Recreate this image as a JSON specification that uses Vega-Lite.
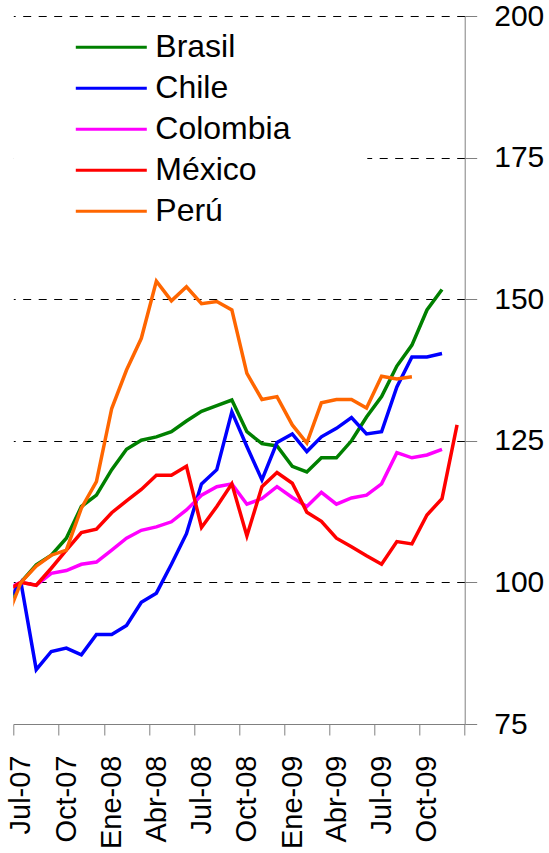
{
  "$schema": "https://vega.github.io/schema/vega-lite/v6.json",
  "width": 451.4,
  "height": 708,
  "autosize": {"type": "none"},
  "padding": {"left": 13.3, "top": 16, "right": 84.3, "bottom": 129},
  "background": "white",
  "config": {
    "view": {"stroke": null},
    "font": "Liberation Sans"
  },
  "datasets": {
    "series": [
      {"pais": "Brasil", "mes": "2007-06", "valor": 95.6},
      {"pais": "Brasil", "mes": "2007-07", "valor": 100},
      {"pais": "Brasil", "mes": "2007-08", "valor": 103.1},
      {"pais": "Brasil", "mes": "2007-09", "valor": 104.8},
      {"pais": "Brasil", "mes": "2007-10", "valor": 107.8},
      {"pais": "Brasil", "mes": "2007-11", "valor": 113.4},
      {"pais": "Brasil", "mes": "2007-12", "valor": 115.4},
      {"pais": "Brasil", "mes": "2008-01", "valor": 119.9},
      {"pais": "Brasil", "mes": "2008-02", "valor": 123.5},
      {"pais": "Brasil", "mes": "2008-03", "valor": 125.1},
      {"pais": "Brasil", "mes": "2008-04", "valor": 125.7},
      {"pais": "Brasil", "mes": "2008-05", "valor": 126.6},
      {"pais": "Brasil", "mes": "2008-06", "valor": 128.5},
      {"pais": "Brasil", "mes": "2008-07", "valor": 130.2},
      {"pais": "Brasil", "mes": "2008-08", "valor": 131.2},
      {"pais": "Brasil", "mes": "2008-09", "valor": 132.2},
      {"pais": "Brasil", "mes": "2008-10", "valor": 126.6},
      {"pais": "Brasil", "mes": "2008-11", "valor": 124.5},
      {"pais": "Brasil", "mes": "2008-12", "valor": 124.1},
      {"pais": "Brasil", "mes": "2009-01", "valor": 120.5},
      {"pais": "Brasil", "mes": "2009-02", "valor": 119.5},
      {"pais": "Brasil", "mes": "2009-03", "valor": 122.0},
      {"pais": "Brasil", "mes": "2009-04", "valor": 122.0},
      {"pais": "Brasil", "mes": "2009-05", "valor": 125.0},
      {"pais": "Brasil", "mes": "2009-06", "valor": 129.2},
      {"pais": "Brasil", "mes": "2009-07", "valor": 132.8},
      {"pais": "Brasil", "mes": "2009-08", "valor": 138.2},
      {"pais": "Brasil", "mes": "2009-09", "valor": 141.9},
      {"pais": "Brasil", "mes": "2009-10", "valor": 148.1},
      {"pais": "Brasil", "mes": "2009-11", "valor": 151.7},
      {"pais": "Chile", "mes": "2007-06", "valor": 96.5},
      {"pais": "Chile", "mes": "2007-07", "valor": 100},
      {"pais": "Chile", "mes": "2007-08", "valor": 84.6},
      {"pais": "Chile", "mes": "2007-09", "valor": 87.8},
      {"pais": "Chile", "mes": "2007-10", "valor": 88.4},
      {"pais": "Chile", "mes": "2007-11", "valor": 87.2},
      {"pais": "Chile", "mes": "2007-12", "valor": 90.8},
      {"pais": "Chile", "mes": "2008-01", "valor": 90.8},
      {"pais": "Chile", "mes": "2008-02", "valor": 92.4},
      {"pais": "Chile", "mes": "2008-03", "valor": 96.5},
      {"pais": "Chile", "mes": "2008-04", "valor": 98.1},
      {"pais": "Chile", "mes": "2008-05", "valor": 103.2},
      {"pais": "Chile", "mes": "2008-06", "valor": 108.6},
      {"pais": "Chile", "mes": "2008-07", "valor": 117.4},
      {"pais": "Chile", "mes": "2008-08", "valor": 119.9},
      {"pais": "Chile", "mes": "2008-09", "valor": 130.1},
      {"pais": "Chile", "mes": "2008-10", "valor": 124.0},
      {"pais": "Chile", "mes": "2008-11", "valor": 118.1},
      {"pais": "Chile", "mes": "2008-12", "valor": 124.7},
      {"pais": "Chile", "mes": "2009-01", "valor": 126.2},
      {"pais": "Chile", "mes": "2009-02", "valor": 123.1},
      {"pais": "Chile", "mes": "2009-03", "valor": 125.7},
      {"pais": "Chile", "mes": "2009-04", "valor": 127.2},
      {"pais": "Chile", "mes": "2009-05", "valor": 129.1},
      {"pais": "Chile", "mes": "2009-06", "valor": 126.2},
      {"pais": "Chile", "mes": "2009-07", "valor": 126.6},
      {"pais": "Chile", "mes": "2009-08", "valor": 134.5},
      {"pais": "Chile", "mes": "2009-09", "valor": 139.8},
      {"pais": "Chile", "mes": "2009-10", "valor": 139.8},
      {"pais": "Chile", "mes": "2009-11", "valor": 140.4},
      {"pais": "Colombia", "mes": "2007-06", "valor": 98.8},
      {"pais": "Colombia", "mes": "2007-07", "valor": 100},
      {"pais": "Colombia", "mes": "2007-08", "valor": 99.5},
      {"pais": "Colombia", "mes": "2007-09", "valor": 101.6},
      {"pais": "Colombia", "mes": "2007-10", "valor": 102.1},
      {"pais": "Colombia", "mes": "2007-11", "valor": 103.2},
      {"pais": "Colombia", "mes": "2007-12", "valor": 103.6},
      {"pais": "Colombia", "mes": "2008-01", "valor": 105.7},
      {"pais": "Colombia", "mes": "2008-02", "valor": 107.8},
      {"pais": "Colombia", "mes": "2008-03", "valor": 109.2},
      {"pais": "Colombia", "mes": "2008-04", "valor": 109.8},
      {"pais": "Colombia", "mes": "2008-05", "valor": 110.7},
      {"pais": "Colombia", "mes": "2008-06", "valor": 112.8},
      {"pais": "Colombia", "mes": "2008-07", "valor": 115.4},
      {"pais": "Colombia", "mes": "2008-08", "valor": 116.9},
      {"pais": "Colombia", "mes": "2008-09", "valor": 117.4},
      {"pais": "Colombia", "mes": "2008-10", "valor": 113.8},
      {"pais": "Colombia", "mes": "2008-11", "valor": 114.8},
      {"pais": "Colombia", "mes": "2008-12", "valor": 116.9},
      {"pais": "Colombia", "mes": "2009-01", "valor": 115.0},
      {"pais": "Colombia", "mes": "2009-02", "valor": 113.4},
      {"pais": "Colombia", "mes": "2009-03", "valor": 115.9},
      {"pais": "Colombia", "mes": "2009-04", "valor": 113.8},
      {"pais": "Colombia", "mes": "2009-05", "valor": 114.9},
      {"pais": "Colombia", "mes": "2009-06", "valor": 115.4},
      {"pais": "Colombia", "mes": "2009-07", "valor": 117.4},
      {"pais": "Colombia", "mes": "2009-08", "valor": 122.9},
      {"pais": "Colombia", "mes": "2009-09", "valor": 122.0},
      {"pais": "Colombia", "mes": "2009-10", "valor": 122.5},
      {"pais": "Colombia", "mes": "2009-11", "valor": 123.5},
      {"pais": "México", "mes": "2007-06", "valor": 98.5},
      {"pais": "México", "mes": "2007-07", "valor": 100},
      {"pais": "México", "mes": "2007-08", "valor": 99.5},
      {"pais": "México", "mes": "2007-09", "valor": 102.5},
      {"pais": "México", "mes": "2007-10", "valor": 105.7},
      {"pais": "México", "mes": "2007-11", "valor": 108.8},
      {"pais": "México", "mes": "2007-12", "valor": 109.4},
      {"pais": "México", "mes": "2008-01", "valor": 112.3},
      {"pais": "México", "mes": "2008-02", "valor": 114.4},
      {"pais": "México", "mes": "2008-03", "valor": 116.4},
      {"pais": "México", "mes": "2008-04", "valor": 118.9},
      {"pais": "México", "mes": "2008-05", "valor": 118.9},
      {"pais": "México", "mes": "2008-06", "valor": 120.5},
      {"pais": "México", "mes": "2008-07", "valor": 109.7},
      {"pais": "México", "mes": "2008-08", "valor": 113.4},
      {"pais": "México", "mes": "2008-09", "valor": 117.4},
      {"pais": "México", "mes": "2008-10", "valor": 108.2},
      {"pais": "México", "mes": "2008-11", "valor": 116.9},
      {"pais": "México", "mes": "2008-12", "valor": 119.4},
      {"pais": "México", "mes": "2009-01", "valor": 117.5},
      {"pais": "México", "mes": "2009-02", "valor": 112.4},
      {"pais": "México", "mes": "2009-03", "valor": 110.8},
      {"pais": "México", "mes": "2009-04", "valor": 107.8},
      {"pais": "México", "mes": "2009-05", "valor": 106.3},
      {"pais": "México", "mes": "2009-06", "valor": 104.7},
      {"pais": "México", "mes": "2009-07", "valor": 103.2},
      {"pais": "México", "mes": "2009-08", "valor": 107.2},
      {"pais": "México", "mes": "2009-09", "valor": 106.8},
      {"pais": "México", "mes": "2009-10", "valor": 111.9},
      {"pais": "México", "mes": "2009-11", "valor": 114.8},
      {"pais": "México", "mes": "2009-12", "valor": 127.8},
      {"pais": "Perú", "mes": "2007-06", "valor": 93.3},
      {"pais": "Perú", "mes": "2007-07", "valor": 100},
      {"pais": "Perú", "mes": "2007-08", "valor": 102.9},
      {"pais": "Perú", "mes": "2007-09", "valor": 104.8},
      {"pais": "Perú", "mes": "2007-10", "valor": 105.7},
      {"pais": "Perú", "mes": "2007-11", "valor": 113.1},
      {"pais": "Perú", "mes": "2007-12", "valor": 117.8},
      {"pais": "Perú", "mes": "2008-01", "valor": 130.7},
      {"pais": "Perú", "mes": "2008-02", "valor": 137.5},
      {"pais": "Perú", "mes": "2008-03", "valor": 143.1},
      {"pais": "Perú", "mes": "2008-04", "valor": 153.2},
      {"pais": "Perú", "mes": "2008-05", "valor": 149.7},
      {"pais": "Perú", "mes": "2008-06", "valor": 152.2},
      {"pais": "Perú", "mes": "2008-07", "valor": 149.2},
      {"pais": "Perú", "mes": "2008-08", "valor": 149.6},
      {"pais": "Perú", "mes": "2008-09", "valor": 148.1},
      {"pais": "Perú", "mes": "2008-10", "valor": 136.9},
      {"pais": "Perú", "mes": "2008-11", "valor": 132.3},
      {"pais": "Perú", "mes": "2008-12", "valor": 132.8},
      {"pais": "Perú", "mes": "2009-01", "valor": 127.8},
      {"pais": "Perú", "mes": "2009-02", "valor": 124.6},
      {"pais": "Perú", "mes": "2009-03", "valor": 131.7},
      {"pais": "Perú", "mes": "2009-04", "valor": 132.3},
      {"pais": "Perú", "mes": "2009-05", "valor": 132.3},
      {"pais": "Perú", "mes": "2009-06", "valor": 130.8},
      {"pais": "Perú", "mes": "2009-07", "valor": 136.4},
      {"pais": "Perú", "mes": "2009-08", "valor": 135.9},
      {"pais": "Perú", "mes": "2009-09", "valor": 136.3}
    ]
  },
  "data": {"name": "series"},
  "mark": {"type": "line", "strokeWidth": 3.5, "clip": true},
  "encoding": {
    "x": {
      "field": "mes",
      "type": "temporal",
      "timeUnit": "utcyearmonth",
      "bandPosition": 0.5,
      "scale": {
        "domain": [
          {"year": 2007, "month": 7, "date": 1, "utc": true},
          {"year": 2010, "month": 1, "date": 1, "utc": true}
        ],
        "nice": false
      },
      "axis": {
        "title": null,
        "values": [
          {"year": 2007, "month": 7, "date": 1, "utc": true},
          {"year": 2007, "month": 10, "date": 1, "utc": true},
          {"year": 2008, "month": 1, "date": 1, "utc": true},
          {"year": 2008, "month": 4, "date": 1, "utc": true},
          {"year": 2008, "month": 7, "date": 1, "utc": true},
          {"year": 2008, "month": 10, "date": 1, "utc": true},
          {"year": 2009, "month": 1, "date": 1, "utc": true},
          {"year": 2009, "month": 4, "date": 1, "utc": true},
          {"year": 2009, "month": 7, "date": 1, "utc": true},
          {"year": 2009, "month": 10, "date": 1, "utc": true},
          {"year": 2010, "month": 1, "date": 1, "utc": true}
        ],
        "labelExpr": "utcyear(datum.value) >= 2010 ? '' : ['Ene','Feb','Mar','Abr','May','Jun','Jul','Ago','Sep','Oct','Nov','Dic'][utcmonth(datum.value)] + '-' + utcFormat(datum.value, '%y')",
        "labelAngle": -90,
        "labelAlign": "right",
        "labelBaseline": "middle",
        "labelOffset": 7.5,
        "labelPadding": 20,
        "labelFontSize": 29,
        "labelFont": "Liberation Sans",
        "labelColor": "black",
        "labelFlush": false,
        "labelOverlap": false,
        "labelBound": false,
        "tickSize": 11,
        "tickColor": "#808080",
        "tickWidth": 1,
        "domainColor": "#808080",
        "domainWidth": 1,
        "grid": false
      }
    },
    "y": {
      "field": "valor",
      "type": "quantitative",
      "scale": {"domain": [75, 200], "nice": false, "zero": false},
      "axis": {
        "title": null,
        "orient": "right",
        "values": [75, 100, 125, 150, 175, 200],
        "grid": true,
        "gridColor": "black",
        "gridDash": [8, 7.5],
        "gridWidth": 1,
        "gridOpacity": {"condition": {"test": "datum.value === 75", "value": 0}, "value": 1},
        "labelFontSize": 30,
        "labelFont": "Liberation Sans",
        "labelColor": "black",
        "labelPadding": 17,
        "labelFlush": false,
        "labelOverlap": false,
        "labelBound": false,
        "tickSize": 12,
        "tickColor": "#808080",
        "domainColor": "#808080",
        "domainWidth": 1
      }
    },
    "color": {
      "field": "pais",
      "type": "nominal",
      "scale": {
        "domain": ["Brasil", "Chile", "Colombia", "México", "Perú"],
        "range": ["#008000", "#0000FF", "#FF00FF", "#FF0000", "#FF6600"]
      },
      "legend": {
        "title": " ",
        "titleOrient": "right",
        "titleFontSize": 8,
        "titlePadding": 72,
        "orient": "none",
        "legendX": 0,
        "legendY": 6,
        "padding": 5,
        "fillColor": "white",
        "strokeColor": null,
        "symbolType": "stroke",
        "symbolSize": 5041,
        "symbolStrokeWidth": 3,
        "clipHeight": 40.6,
        "rowPadding": 0,
        "symbolOffset": 56,
        "labelOffset": 7,
        "labelFontSize": 32,
        "labelFont": "Liberation Sans",
        "labelColor": "black",
        "labelLimit": 400
      }
    }
  }
}
